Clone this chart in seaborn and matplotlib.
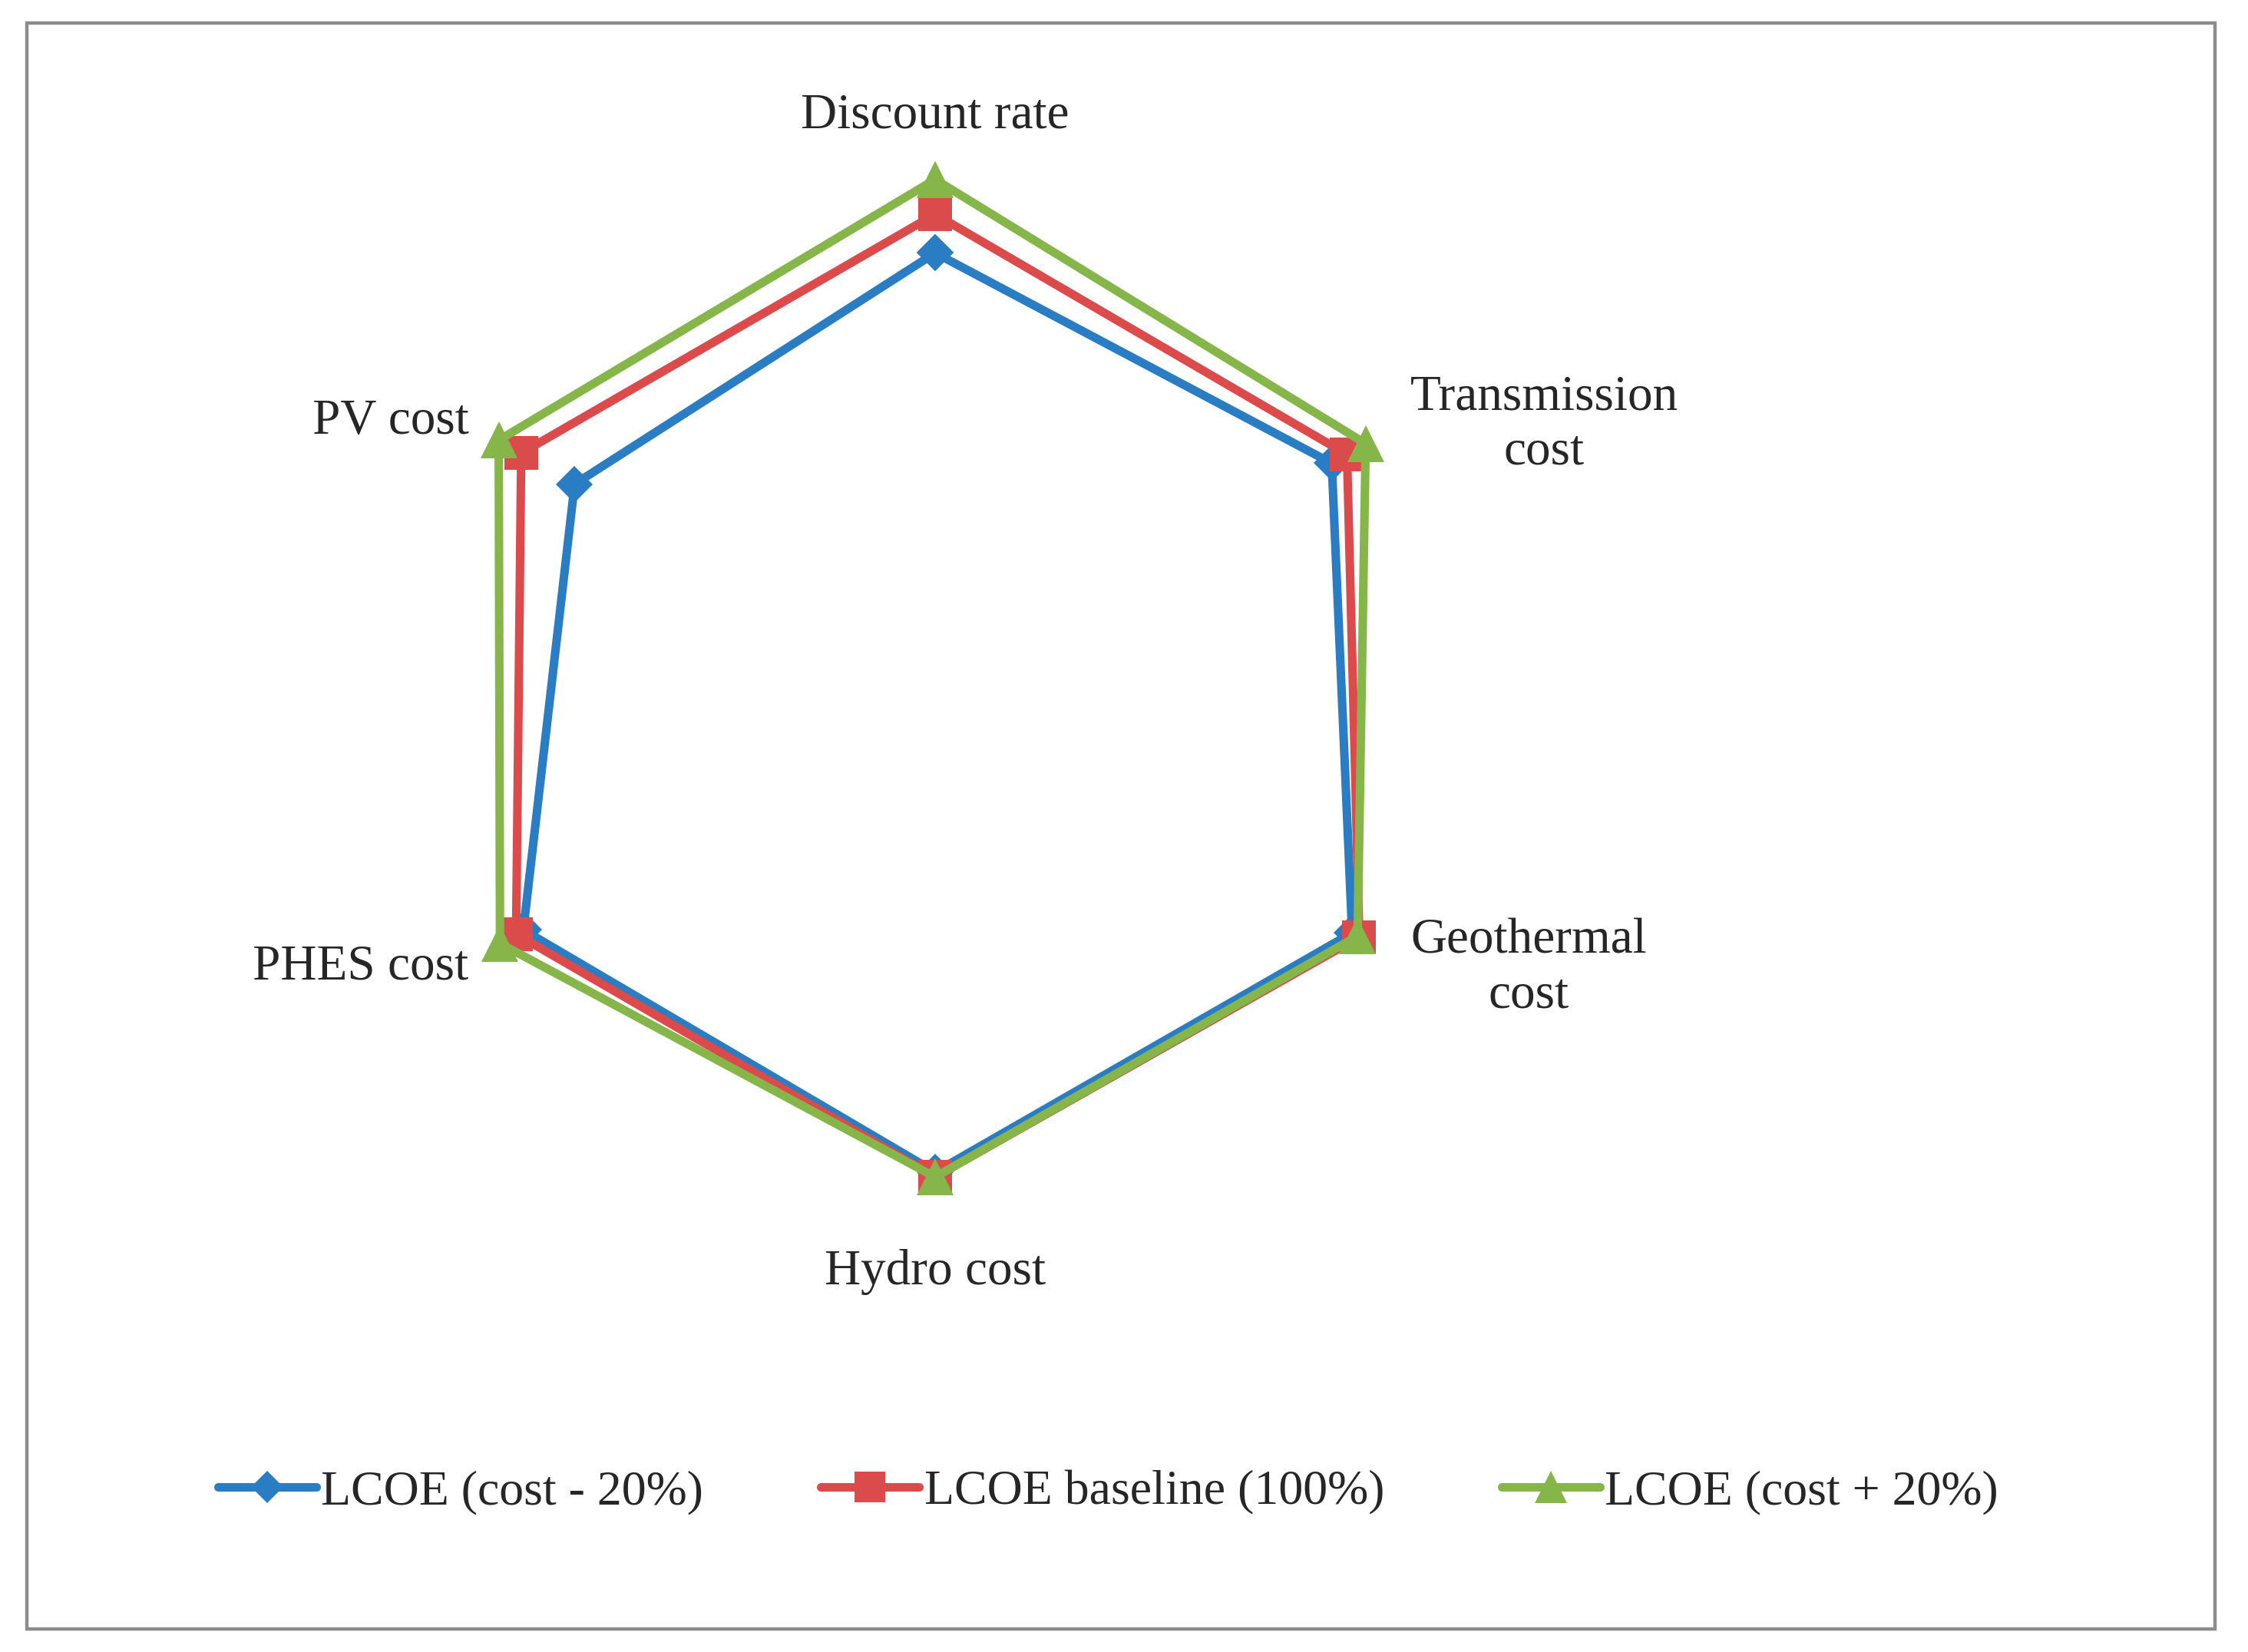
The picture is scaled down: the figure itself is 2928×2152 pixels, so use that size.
import numpy as np
import matplotlib.pyplot as plt
from matplotlib.patches import Rectangle
from matplotlib.lines import Line2D
import seaborn as sns
import pandas as pd

# categories, clockwise from the top
categories = ["Discount rate", "Transmission\ncost", "Geothermal\ncost",
              "Hydro cost", "PHES cost", "PV cost"]

# LCOE values (relative units)
lcoe_minus = [89.7, 93.5, 98.3, 98.0, 97.1, 85.0]
lcoe_base = [97.6, 97.1, 100.0, 99.0, 98.8, 97.6]
lcoe_plus = [104.7, 101.5, 99.6, 99.0, 102.6, 102.9]

series = ["LCOE (cost - 20%)", "LCOE baseline (100%)", "LCOE (cost + 20%)"]
colors = ["#2a7dc2", "#db4b4b", "#86b64a"]
markers = ["D", "s", "^"]
msizes = [12, 16, 17]

sns.set_style("white")
plt.rcParams['font.family'] = ['Liberation Serif', 'DejaVu Serif']

fig = plt.figure(figsize=(14.64, 10.76), dpi=200)
ax = fig.add_axes([0.177, 0.2557, 0.478, 0.6506], projection='polar')
ax.set_theta_zero_location('N')
ax.set_theta_direction(-1)

theta = np.arange(len(categories)) * 2 * np.pi / len(categories)
theta_closed = np.append(theta, 2 * np.pi)

rows = []
for name, vals in zip(series, [lcoe_minus, lcoe_base, lcoe_plus]):
    closed = list(vals) + [vals[0]]
    for t, v in zip(theta_closed, closed):
        rows.append([name, t, v])
df = pd.DataFrame(rows, columns=['series', 'theta', 'lcoe'])

for name, c, m, ms in zip(series, colors, markers, msizes):
    sub = df[df['series'] == name]
    sns.lineplot(data=sub, x='theta', y='lcoe', ax=ax, color=c, marker=m,
                 markersize=ms, mec=c, mew=0, lw=4.0, sort=False,
                 estimator=None, label=name)

ax.set_ylim(0, 109.7)
ax.grid(False)
ax.spines['polar'].set_visible(False)
ax.set_xticks([])
ax.set_yticks([])
ax.set_xlabel('')
ax.set_ylabel('')
ax.get_legend().remove()

# category labels
fs = 23.5
fig.text(0.416, 0.930, categories[0], ha='center', va='center', fontsize=fs)
fig.text(0.687, 0.743, categories[1], ha='center', va='center', fontsize=fs,
         linespacing=1.25)
fig.text(0.680, 0.414, categories[2], ha='center', va='center', fontsize=fs,
         linespacing=1.25)
fig.text(0.416, 0.230, categories[3], ha='center', va='center', fontsize=fs)
fig.text(0.2085, 0.4145, categories[4], ha='right', va='center', fontsize=fs)
fig.text(0.2085, 0.745, categories[5], ha='right', va='center', fontsize=fs)

handles = [Line2D([], [], color=c, marker=m, markersize=ms * 0.9, mew=0, lw=4.0)
           for c, m, ms in zip(colors, markers, msizes)]
fig.legend(handles, series, loc='center', bbox_to_anchor=(0.493, 0.0965),
           ncol=3, frameon=False, fontsize=23, handlelength=2.0,
           handletextpad=0.1, columnspacing=2.4)

# outer frame
fig.patches.append(Rectangle((0.0118, 0.0138), 0.9735, 0.9722, transform=fig.transFigure,
                             fill=False, edgecolor='#8c8c8c', lw=1.6))

plt.savefig("out.png", dpi=200)
